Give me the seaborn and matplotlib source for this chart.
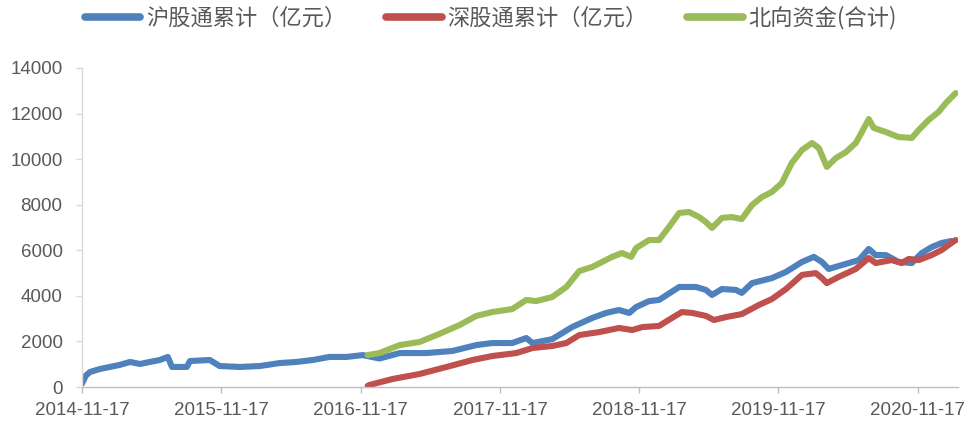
import numpy as np
import pandas as pd
import matplotlib
matplotlib.use("Agg")
import matplotlib.pyplot as plt
import matplotlib.dates as mdates
import seaborn as sns

# 沪股通累计（亿元）
sh_dates = [
    "2014-11-17", "2014-11-27", "2014-12-08", "2015-01-03", "2015-01-29", "2015-02-24",
    "2015-03-23", "2015-04-18", "2015-05-14", "2015-06-09", "2015-06-30", "2015-07-11",
    "2015-08-19", "2015-08-27", "2015-10-18", "2015-11-13", "2016-01-05", "2016-02-26",
    "2016-04-18", "2016-06-02", "2016-07-14", "2016-08-27", "2016-10-11", "2016-11-22",
    "2017-01-05", "2017-02-27", "2017-05-08", "2017-07-15", "2017-09-16", "2017-10-28",
    "2017-12-19", "2018-01-25", "2018-02-10", "2018-04-03", "2018-05-25", "2018-07-17",
    "2018-08-22", "2018-09-25", "2018-10-22", "2018-11-09", "2018-12-13", "2019-01-08",
    "2019-03-02", "2019-04-15", "2019-05-11", "2019-05-27", "2019-06-22", "2019-07-29",
    "2019-08-13", "2019-09-09", "2019-10-31", "2019-12-07", "2020-01-18", "2020-02-18",
    "2020-03-10", "2020-03-28", "2020-04-23", "2020-05-20", "2020-06-15", "2020-07-11",
    "2020-07-29", "2020-08-25", "2020-09-27", "2020-11-01", "2020-11-27", "2020-12-23",
    "2021-01-18", "2021-02-13",
]
sh_values = [
    150, 500, 660, 790, 880, 970,
    1100, 1010, 1100, 1185, 1320, 880,
    880, 1140, 1185, 920, 880, 920,
    1050, 1100, 1185, 1320, 1320, 1400,
    1250, 1490, 1490, 1580, 1840, 1930,
    1930, 2150, 1930, 2100, 2630, 3030,
    3250, 3380, 3250, 3510, 3770, 3820,
    4390, 4390, 4260, 4040, 4300, 4260,
    4130, 4560, 4780, 5050, 5490, 5710,
    5490, 5180, 5310, 5440, 5570, 6060,
    5790, 5790, 5490, 5440, 5880, 6140,
    6320, 6410,
]

# 深股通累计（亿元）
sz_dates = [
    "2016-12-05", "2016-12-10", "2017-02-08", "2017-04-20", "2017-06-30", "2017-09-06",
    "2017-10-28", "2017-12-30", "2018-02-10", "2018-04-03", "2018-05-10", "2018-06-13",
    "2018-08-04", "2018-09-25", "2018-10-30", "2018-11-25", "2019-01-08", "2019-02-11",
    "2019-03-09", "2019-04-05", "2019-05-11", "2019-06-01", "2019-07-03", "2019-08-13",
    "2019-09-27", "2019-10-31", "2019-12-07", "2020-01-18", "2020-02-23", "2020-03-10",
    "2020-03-23", "2020-04-23", "2020-06-07", "2020-07-11", "2020-07-29", "2020-09-09",
    "2020-10-05", "2020-10-24", "2020-11-19", "2020-12-23", "2021-01-18", "2021-02-05",
    "2021-02-24",
]
sz_values = [
    50, 90, 350, 570, 880, 1185,
    1360, 1490, 1710, 1800, 1930, 2280,
    2410, 2590, 2500, 2630, 2680, 3030,
    3290, 3250, 3120, 2940, 3070, 3200,
    3600, 3860, 4300, 4920, 5000, 4780,
    4560, 4830, 5180, 5660, 5440, 5570,
    5440, 5620, 5570, 5790, 6010, 6230,
    6450,
]

# 北向资金(合计)
nb_dates = [
    "2016-12-05", "2017-01-05", "2017-02-27", "2017-04-20", "2017-06-11", "2017-08-03",
    "2017-09-16", "2017-10-28", "2017-12-19", "2018-01-25", "2018-02-20", "2018-04-03",
    "2018-05-10", "2018-06-13", "2018-07-17", "2018-09-07", "2018-10-03", "2018-10-27",
    "2018-11-09", "2018-12-13", "2019-01-08", "2019-02-03", "2019-03-02", "2019-03-28",
    "2019-04-23", "2019-05-11", "2019-05-27", "2019-06-22", "2019-07-18", "2019-08-13",
    "2019-09-09", "2019-10-05", "2019-10-31", "2019-11-26", "2019-12-22", "2020-01-18",
    "2020-02-13", "2020-03-02", "2020-03-23", "2020-04-16", "2020-05-12", "2020-06-07",
    "2020-06-23", "2020-07-11", "2020-07-24", "2020-08-25", "2020-09-27", "2020-11-01",
    "2020-11-19", "2020-12-15", "2021-01-10", "2021-01-29", "2021-02-24",
]
nb_values = [
    1400, 1490, 1840, 1975, 2330, 2720,
    3120, 3290, 3420, 3820, 3770, 3950,
    4390, 5090, 5270, 5710, 5880, 5710,
    6100, 6450, 6450, 7020, 7640, 7680,
    7460, 7240, 6980, 7420, 7460, 7370,
    7990, 8340, 8560, 8950, 9830, 10400,
    10710, 10490, 9660, 10050, 10310, 10710,
    11190, 11760, 11370, 11190, 10970, 10930,
    11280, 11720, 12070, 12460, 12900,
]

series_names = ["沪股通累计（亿元）", "深股通累计（亿元）", "北向资金(合计)"]
colors = ["#4F81BD", "#C0504D", "#9BBB59"]
tick_dates = ["2014-11-17", "2015-11-17", "2016-11-17", "2017-11-17",
              "2018-11-17", "2019-11-17", "2020-11-17"]

frames = []
for name, d, v in zip(series_names, [sh_dates, sz_dates, nb_dates], [sh_values, sz_values, nb_values]):
    frames.append(pd.DataFrame({"date": pd.to_datetime(d), "value": v, "series": name}))
df = pd.concat(frames, ignore_index=True)

sns.set_theme(style="white")
plt.rcParams["font.family"] = ["Liberation Sans", "DejaVu Sans"]

fig = plt.figure(figsize=(9.7, 4.3), dpi=100)
ax = fig.add_axes([82 / 970, 1 - 387 / 430, (958 - 82) / 970, (387 - 68) / 430])

sns.lineplot(data=df, x="date", y="value", hue="series", hue_order=series_names,
             palette=dict(zip(series_names, colors)), linewidth=4.4, ax=ax,
             legend=False, estimator=None, sort=True)
for ln in ax.get_lines():
    ln.set_solid_capstyle("round")
    ln.set_solid_joinstyle("round")

ax.set_xlim(pd.Timestamp("2014-11-17"), pd.Timestamp("2021-03-02"))
ax.set_ylim(0, 14000)
ax.set_yticks(np.arange(0, 14001, 2000))
ax.set_xticks(pd.to_datetime(tick_dates))
ax.xaxis.set_major_formatter(mdates.DateFormatter("%Y-%m-%d"))
ax.set_xlabel("")
ax.set_ylabel("")

for side in ["top", "right"]:
    ax.spines[side].set_visible(False)
ax.spines["left"].set_color("#D9D9D9")
ax.spines["bottom"].set_color("#BFBFBF")
ax.spines["left"].set_linewidth(1)
ax.spines["bottom"].set_linewidth(1)
ax.tick_params(axis="x", direction="out", length=4, width=1, color="#BFBFBF",
               labelsize=13.5, labelcolor="#595959", pad=7, bottom=True)
ax.tick_params(axis="y", direction="out", length=4, width=1, color="#D9D9D9",
               labelsize=13.5, labelcolor="#595959", pad=10, left=True)

handles = ax.get_lines()[:3]
leg = fig.legend(handles, series_names, loc="center", bbox_to_anchor=(0.506, 0.958),
                 ncol=3, frameon=False, handlelength=2.5, handletextpad=0.25,
                 columnspacing=1.8, prop={"family": ["Noto Sans CJK SC", "DejaVu Sans"], "size": 16})
for t in leg.get_texts():
    t.set_color("#595959")
for h in leg.legend_handles:
    h.set_linewidth(5.5)

fig.savefig("out.png", dpi=100)
